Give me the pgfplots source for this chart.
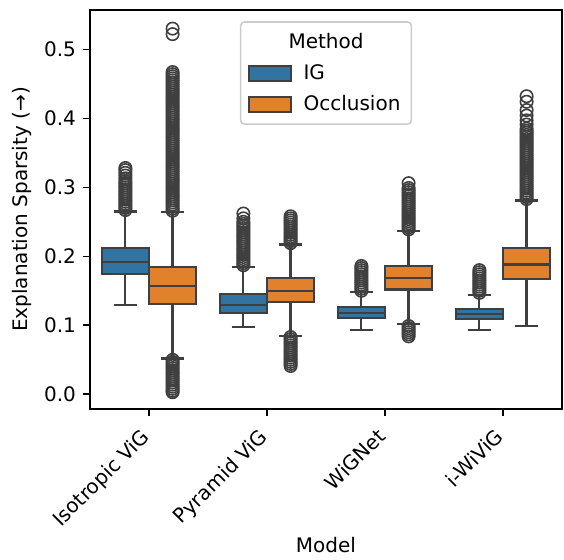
\documentclass[border=0pt]{standalone}
\usepackage{pgfplots}
\pgfplotsset{compat=1.18}
\usepackage{pgfplotstable}
\usepgfplotslibrary{statistics}
\usepackage{fontspec}
\setmainfont{DejaVu Sans}

\definecolor{igblue}{HTML}{3274A1}
\definecolor{occorange}{HTML}{E1812C}
\definecolor{gr}{HTML}{3F3F3F}

% outliers, one table per box
\pgfplotstableread[row sep=\\]{y\\
0.267\\ 0.270\\ 0.273\\ 0.276\\ 0.279\\ 0.282\\ 0.285\\ 0.288\\ 0.291\\ 0.294\\
0.297\\ 0.300\\ 0.303\\ 0.306\\ 0.309\\ 0.313\\ 0.317\\ 0.321\\ 0.325\\ 0.328\\
}\isoig
\pgfplotstableread[row sep=\\]{y\\
0.266\\ 0.269\\ 0.272\\ 0.275\\ 0.278\\ 0.281\\ 0.284\\ 0.287\\ 0.290\\ 0.293\\
0.296\\ 0.299\\ 0.302\\ 0.305\\ 0.308\\ 0.311\\ 0.314\\ 0.317\\ 0.320\\ 0.323\\
0.326\\ 0.329\\ 0.332\\ 0.335\\ 0.338\\ 0.341\\ 0.344\\ 0.347\\ 0.350\\ 0.353\\
0.356\\ 0.359\\ 0.362\\ 0.365\\ 0.368\\ 0.371\\ 0.374\\ 0.377\\ 0.380\\ 0.383\\
0.386\\ 0.389\\ 0.392\\ 0.395\\ 0.398\\ 0.401\\ 0.404\\ 0.407\\ 0.410\\ 0.413\\
0.416\\ 0.419\\ 0.422\\ 0.425\\ 0.428\\ 0.431\\ 0.434\\ 0.437\\ 0.440\\ 0.443\\
0.446\\ 0.449\\ 0.452\\ 0.455\\ 0.458\\ 0.461\\ 0.464\\ 0.467\\ 0.522\\ 0.530\\
0.003\\ 0.005\\ 0.008\\ 0.011\\ 0.014\\ 0.017\\ 0.020\\ 0.023\\ 0.026\\ 0.029\\
0.032\\ 0.035\\ 0.038\\ 0.041\\ 0.044\\ 0.047\\ 0.050\\
}\isoocc
\pgfplotstableread[row sep=\\]{y\\
0.187\\ 0.190\\ 0.193\\ 0.196\\ 0.199\\ 0.202\\ 0.205\\ 0.208\\ 0.211\\ 0.214\\
0.217\\ 0.220\\ 0.223\\ 0.226\\ 0.229\\ 0.232\\ 0.235\\ 0.238\\ 0.241\\ 0.244\\
0.247\\ 0.250\\ 0.255\\ 0.262\\
}\pyrig
\pgfplotstableread[row sep=\\]{y\\
0.219\\ 0.222\\ 0.225\\ 0.228\\ 0.231\\ 0.234\\ 0.237\\ 0.240\\ 0.243\\ 0.246\\
0.249\\ 0.252\\ 0.255\\ 0.258\\
0.041\\ 0.044\\ 0.047\\ 0.050\\ 0.053\\ 0.056\\ 0.059\\ 0.062\\ 0.065\\ 0.068\\
0.071\\ 0.074\\ 0.077\\ 0.080\\ 0.083\\
}\pyrocc
\pgfplotstableread[row sep=\\]{y\\
0.150\\ 0.153\\ 0.156\\ 0.159\\ 0.162\\ 0.165\\ 0.168\\ 0.171\\ 0.174\\ 0.177\\
0.180\\ 0.183\\ 0.186\\
}\wigig
\pgfplotstableread[row sep=\\]{y\\
0.239\\ 0.242\\ 0.245\\ 0.248\\ 0.251\\ 0.254\\ 0.257\\ 0.260\\ 0.263\\ 0.266\\
0.269\\ 0.272\\ 0.275\\ 0.278\\ 0.281\\ 0.284\\ 0.287\\ 0.290\\ 0.293\\ 0.296\\
0.299\\ 0.306\\
0.084\\ 0.087\\ 0.090\\ 0.093\\ 0.096\\ 0.099\\
}\wigocc
\pgfplotstableread[row sep=\\]{y\\
0.147\\ 0.150\\ 0.153\\ 0.156\\ 0.159\\ 0.162\\ 0.165\\ 0.168\\ 0.171\\ 0.174\\
0.177\\ 0.180\\
}\iwiig
\pgfplotstableread[row sep=\\]{y\\
0.283\\ 0.286\\ 0.289\\ 0.292\\ 0.295\\ 0.298\\ 0.301\\ 0.304\\ 0.307\\ 0.310\\
0.313\\ 0.316\\ 0.319\\ 0.322\\ 0.325\\ 0.328\\ 0.331\\ 0.334\\ 0.337\\ 0.340\\
0.343\\ 0.346\\ 0.349\\ 0.352\\ 0.355\\ 0.358\\ 0.361\\ 0.364\\ 0.367\\ 0.370\\
0.373\\ 0.376\\ 0.379\\ 0.382\\ 0.385\\ 0.391\\ 0.397\\ 0.404\\ 0.412\\ 0.424\\
0.432\\
}\iwiocc

\pgfplotsset{
  bx/.style={forget plot, draw=gr, line width=1.1pt, fill=#1,
    mark=o, mark size=3.1pt, mark options={draw=gr, line width=0.8pt, fill=none},
    boxplot/draw direction=y,
    boxplot/box extend=0.4, boxplot/whisker extend=0.2},
  patch/.style={legend image code/.code={
    \draw[fill=#1, draw=gr, line width=1pt, sharp corners] (0pt,-3.75pt) rectangle (21pt,3.75pt);}},
}

\begin{document}
\begin{tikzpicture}
\useasboundingbox (-45pt,-75.5pt) rectangle (237pt,204.5pt);
\begin{axis}[
  scale only axis,
  width=236pt, height=199.5pt,
  xmin=-0.5, xmax=3.5,
  ymin=-0.0213, ymax=0.557,
  xtick={0,1,2,3},
  xticklabels={Isotropic ViG, Pyramid ViG, WiGNet, i-WiViG},
  ytick={0,0.1,0.2,0.3,0.4,0.5},
  yticklabel style={/pgf/number format/.cd, fixed, fixed zerofill, precision=1},
  /pgf/number format/assume math mode=true,
  xticklabel style={xshift=-4.5pt, rotate=45, anchor=north east, inner sep=1pt},
  xticklabel shift=4pt,
  tick pos=left,
  tick align=outside,
  major tick length=3.5pt,
  every tick/.style={black, line width=0.8pt},
  axis line style={line width=0.8pt},
  xlabel={Model},
  ylabel={Explanation Sparsity (→)},
  xlabel style={at={(axis description cs:0.5,-0.341)}, anchor=center},
  ylabel style={at={(axis description cs:-0.144,0.5)}, anchor=center},
  legend style={at={(0.5,0.972)}, anchor=north, draw=black!20,
    rounded corners=2pt, line width=0.8pt, inner sep=3.5pt,
    row sep=2.5pt, column sep=4pt, cells={anchor=west}},
]
\addplot[bx=igblue, boxplot prepared={draw position=-0.2, lower whisker=0.129,
  lower quartile=0.174, median=0.192, upper quartile=0.212, upper whisker=0.265}]
  table[y index=0] {\isoig};
\addplot[bx=occorange, boxplot prepared={draw position=0.2, lower whisker=0.052,
  lower quartile=0.131, median=0.157, upper quartile=0.184, upper whisker=0.264}]
  table[y index=0] {\isoocc};
\addplot[bx=igblue, boxplot prepared={draw position=0.8, lower whisker=0.0975,
  lower quartile=0.118, median=0.129, upper quartile=0.1455, upper whisker=0.1845}]
  table[y index=0] {\pyrig};
\addplot[bx=occorange, boxplot prepared={draw position=1.2, lower whisker=0.085,
  lower quartile=0.134, median=0.150, upper quartile=0.168, upper whisker=0.217}]
  table[y index=0] {\pyrocc};
\addplot[bx=igblue, boxplot prepared={draw position=1.8, lower whisker=0.093,
  lower quartile=0.110, median=0.118, upper quartile=0.126, upper whisker=0.148}]
  table[y index=0] {\wigig};
\addplot[bx=occorange, boxplot prepared={draw position=2.2, lower whisker=0.102,
  lower quartile=0.152, median=0.169, upper quartile=0.186, upper whisker=0.237}]
  table[y index=0] {\wigocc};
\addplot[bx=igblue, boxplot prepared={draw position=2.8, lower whisker=0.093,
  lower quartile=0.1096, median=0.116, upper quartile=0.124, upper whisker=0.1444}]
  table[y index=0] {\iwiig};
\addplot[bx=occorange, boxplot prepared={draw position=3.2, lower whisker=0.099,
  lower quartile=0.1667, median=0.188, upper quartile=0.2116, upper whisker=0.281}]
  table[y index=0] {\iwiocc};

\addlegendimage{empty legend}
\addlegendentry{\hspace{-7.5pt}Method}
\addlegendimage{patch=igblue}
\addlegendentry{IG}
\addlegendimage{patch=occorange}
\addlegendentry{Occlusion}
\end{axis}
\end{tikzpicture}
\end{document}
